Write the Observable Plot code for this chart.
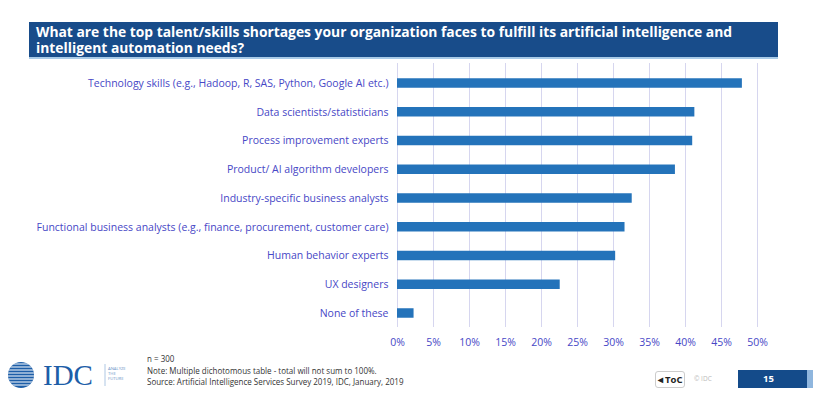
<!DOCTYPE html>
<html>
<head>
<meta charset="utf-8">
<script src="https://cdn.jsdelivr.net/npm/d3@7"></script>
<script src="https://cdn.jsdelivr.net/npm/@observablehq/plot@0.6"></script>
<style>
  html, body { margin: 0; padding: 0; background: #fff; }
  #page { position: relative; width: 813px; height: 396px; overflow: hidden; font-family: "Open Sans", sans-serif; }
  #title { position: absolute; left: 29px; top: 22px; width: 749px; height: 37px; background: #184c8a;
    border-bottom: 2px solid #a9cbe8; box-sizing: border-box; color: #fff; font-weight: bold; font-size: 13.85px;
    line-height: 16px; padding: 2px 0 0 7px; }
  #chart { position: absolute; left: 0; top: 0; }
  #notes { position: absolute; left: 147px; top: 353px; font-size: 9.3px; line-height: 11.6px; color: #333;
    transform: scaleX(0.86); transform-origin: 0 0; white-space: nowrap; }
  #notes div { height: 11.6px; }
  #logo { position: absolute; left: 4px; top: 360px; }
  #toc { position: absolute; left: 655px; top: 371px; width: 30px; height: 17px; border: 1px solid #ccc; border-radius: 3px;
    box-sizing: border-box; font-size: 9.5px; font-weight: bold; color: #222; text-align: center; line-height: 15px; }
  #copy { position: absolute; left: 694px; top: 374px; font-size: 6.5px; color: #bbb; }
  #pagebox { position: absolute; left: 738px; top: 370px; width: 69px; height: 18px; background: #144b8a; color: #fff;
    font-size: 9.5px; font-weight: bold; line-height: 18px; box-sizing: border-box; padding-left: 25px; }
  #pageedge { position: absolute; left: 807px; top: 370px; width: 6px; height: 18px; background: #8fb6de; }
</style>
</head>
<body>
<div id="page">
  <div id="title">What are the top talent/skills shortages your organization faces to fulfill its artificial intelligence and intelligent automation needs?</div>
  <div id="chart"></div>
  <svg id="logo" width="135" height="30" viewBox="0 0 135 30">
    <defs><clipPath id="globe"><circle cx="17" cy="15" r="13"/></clipPath></defs>
    <g clip-path="url(#globe)">
      <rect x="3" y="1" width="28" height="28" fill="#1d5ea8"/>
      <g stroke="#fff" stroke-width="1.1">
        <line x1="0" x2="40" y1="4" y2="4"/><line x1="0" x2="40" y1="7" y2="7"/><line x1="0" x2="40" y1="10" y2="10"/>
        <line x1="0" x2="40" y1="13" y2="13"/><line x1="0" x2="40" y1="16" y2="16"/><line x1="0" x2="40" y1="19" y2="19"/>
        <line x1="0" x2="40" y1="22" y2="22"/><line x1="0" x2="40" y1="25" y2="25"/>
      </g>
    </g>
    <text x="39" y="25" font-family="Liberation Serif, serif" font-size="29" fill="#1d5ea8">IDC</text>
    <line x1="101" x2="101" y1="4" y2="26" stroke="#9bb9dc" stroke-width="0.8"/>
    <text x="104" y="10" font-family="Open Sans" font-size="4.2" fill="#6e95c8">ANALYZE</text>
    <text x="104" y="15" font-family="Open Sans" font-size="4.2" fill="#6e95c8">THE</text>
    <text x="104" y="20" font-family="Open Sans" font-size="4.2" fill="#6e95c8">FUTURE</text>
  </svg>
  <div id="notes"><div>n = 300</div><div>Note: Multiple dichotomous table - total will not sum to 100%.</div><div>Source: Artificial Intelligence Services Survey 2019, IDC, January, 2019</div></div>
  <div id="toc">&#9666; ToC</div>
  <div id="copy">© IDC</div>
  <div id="pagebox">15</div>
  <div id="pageedge"></div>
</div>
<script>
const categories = [
  "Technology skills (e.g., Hadoop, R, SAS, Python, Google AI etc.)",
  "Data scientists/statisticians",
  "Process improvement experts",
  "Product/ AI algorithm developers",
  "Industry-specific business analysts",
  "Functional business analysts (e.g., finance, procurement, customer care)",
  "Human behavior experts",
  "UX designers",
  "None of these"
];
const values = [47.9, 41.3, 41.0, 38.6, 32.6, 31.6, 30.3, 22.6, 2.3];
const xTicks = [0, 5, 10, 15, 20, 25, 30, 35, 40, 45, 50];

const data = categories.map((c, i) => ({skill: c, pct: values[i]}));
const labelColor = "#4747c6";
const pctFormat = d => d + "%";

const chart = Plot.plot({
  width: 813,
  height: 396,
  marginLeft: 397,
  marginRight: 56,
  marginTop: 59,
  marginBottom: 59,
  style: {fontFamily: "Open Sans", fontSize: "10.5px", background: "transparent", color: labelColor},
  x: {domain: [0, 50], ticks: xTicks, tickFormat: pctFormat, label: null},
  y: {domain: categories, padding: 0.67, round: false, label: null},
  marks: [
    Plot.ruleX(xTicks, {stroke: "#d6d6ef", strokeWidth: 1, insetTop: 4, insetBottom: 10}),
    Plot.barX(data, {x: "pct", y: "skill", fill: "#2473ba"}),
    Plot.axisY({tickSize: 0, tickPadding: 9, fill: labelColor, fontSize: "10.5px"}),
    Plot.axisX({ticks: xTicks, tickFormat: pctFormat, tickSize: 0, tickPadding: 1, fill: labelColor, fontSize: "10.5px", label: null})
  ]
});
document.getElementById("chart").appendChild(chart);
</script>
</body>
</html>
